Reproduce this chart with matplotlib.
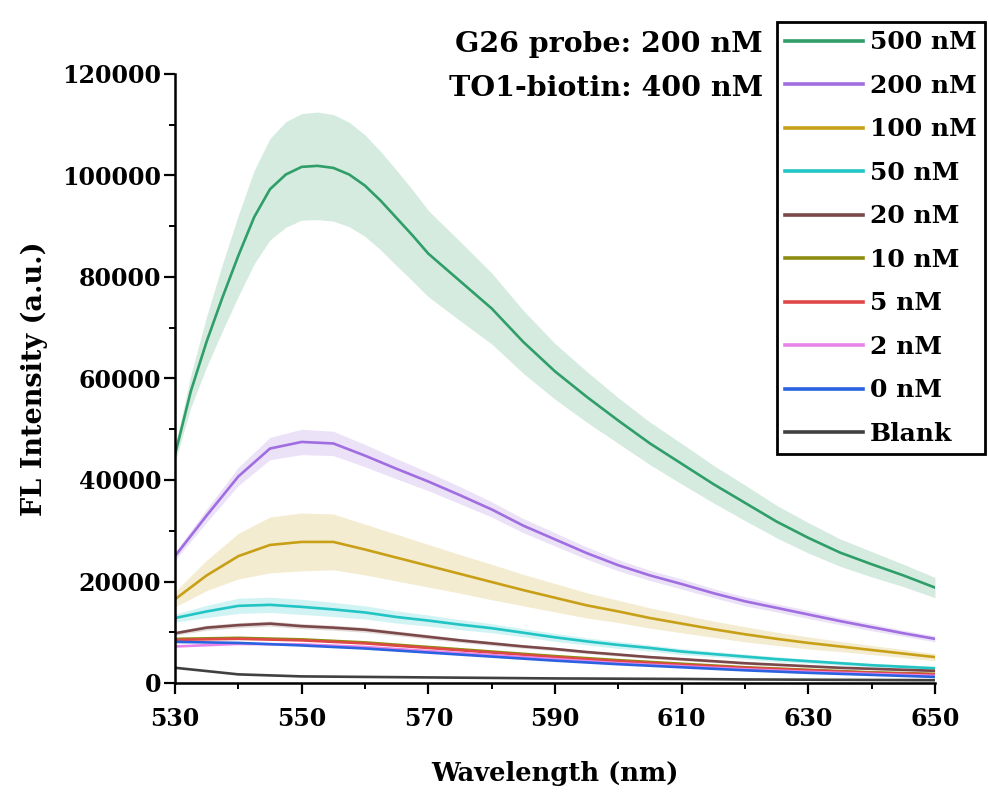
import numpy as np
import matplotlib
matplotlib.use("Agg")
import matplotlib.pyplot as plt
from matplotlib.ticker import FixedLocator

plt.rcParams['font.family'] = ['DejaVu Serif']
plt.rcParams['font.weight'] = 'bold'

# ---------------- data ----------------
wl_g = [530, 532.5, 535, 537.5, 540, 542.5, 545, 547.5, 550, 552.5, 555, 557.5,
        560, 562.5, 565, 567.5, 570, 575, 580, 585, 590, 595, 600, 605, 610,
        615, 620, 625, 630, 635, 640, 645, 650]
c500 = [45000, 57500, 67300, 76000, 84200, 91800, 97300, 100200, 101700, 101900,
        101500, 100200, 98000, 95000, 91600, 88200, 84600, 79200, 73800, 67200,
        61400, 56400, 51700, 47200, 43200, 39200, 35500, 31800, 28600, 25700,
        23400, 21200, 18800]
s500 = [1500, 3200, 5000, 6600, 8000, 9200, 10000, 10400, 10500, 10600,
        10500, 10300, 10000, 9700, 9400, 9000, 8500, 7800, 7000, 6200,
        5500, 5000, 4500, 4200, 4000, 3700, 3500, 3200, 3000, 2700,
        2500, 2200, 2000]

wl5 = [530, 535, 540, 545, 550, 555, 560, 565, 570, 575, 580, 585, 590,
       595, 600, 605, 610, 615, 620, 625, 630, 635, 640, 645, 650]
wl10 = [530, 540, 550, 560, 570, 580, 590, 600, 610, 620, 630, 640, 650]

c200 = [25000, 33000, 40700, 46200, 47500, 47200, 44800, 42200, 39700, 37000,
        34200, 31000, 28300, 25600, 23200, 21200, 19500, 17700, 16100, 14800,
        13500, 12200, 11000, 9800, 8700]
s200 = [800, 1300, 1800, 2200, 2500, 2400, 2200, 2000, 1800, 1700,
        1500, 1400, 1300, 1200, 1100, 1000, 1000, 900, 900, 800,
        800, 700, 700, 600, 600]

c100 = [16500, 21200, 25000, 27200, 27800, 27800, 26300, 24700, 23100, 21500,
        19900, 18300, 16800, 15300, 14100, 12800, 11700, 10600, 9600, 8700,
        7900, 7200, 6500, 5800, 5100]
s100 = [1500, 3000, 4500, 5500, 5700, 5500, 5000, 4600, 4200, 3800,
        3500, 3100, 2800, 2500, 2200, 2000, 1800, 1600, 1500, 1300,
        1200, 1000, 900, 800, 700]

c50 = [12800, 14100, 15200, 15400, 15000, 14500, 13900, 13000, 12300, 11500,
       10800, 9900, 9000, 8200, 7500, 6900, 6200, 5700, 5200, 4700,
       4300, 3900, 3500, 3200, 2900]
s50 = [800, 1200, 1500, 1500, 1500, 1400, 1300, 1200, 1100, 1000,
       900, 800, 800, 700, 700, 600, 600, 500, 500, 500,
       400, 400, 400, 400, 400]

c20 = [9800, 10900, 11400, 11700, 11200, 10900, 10500, 9800, 9100, 8400,
       7800, 7200, 6700, 6100, 5600, 5100, 4700, 4300, 3900, 3600,
       3300, 3000, 2800, 2600, 2400]
s20 = [400, 500, 500, 500, 500, 500, 500, 450, 450, 400,
       400, 350, 350, 300, 300, 300, 300, 250, 250, 250,
       200, 200, 200, 200, 200]

c10 = [8700, 8900, 8600, 8000, 7100, 6200, 5300, 4500, 3800, 3100, 2600, 2100, 1800]
c5 = [8500, 8700, 8400, 7800, 6900, 6000, 5100, 4300, 3600, 3000, 2500, 2000, 1700]
c2 = [7200, 7700, 7600, 7100, 6300, 5500, 4700, 3900, 3300, 2700, 2200, 1800, 1400]
c0 = [8100, 7900, 7400, 6800, 6000, 5200, 4400, 3700, 3100, 2500, 2000, 1600, 1200]
cblank = [3000, 1700, 1300, 1200, 1100, 1000, 900, 850, 800, 700, 650, 600, 550]

xticks_major = [530, 550, 570, 590, 610, 630, 650]
xticks_minor = [540, 560, 580, 600, 620, 640]
yticks_major = [0, 20000, 40000, 60000, 80000, 100000, 120000]
yticks_minor = [10000, 30000, 50000, 70000, 90000, 110000]

labels = ['500 nM', '200 nM', '100 nM', '50 nM', '20 nM', '10 nM',
          '5 nM', '2 nM', '0 nM', 'Blank']
colors = ['#2f9e68', '#a06ee0', '#c8a018', '#22c4c4', '#7a4848', '#8c8c10',
          '#e04848', '#e884e8', '#2a62e0', '#404040']

# ---------------- figure ----------------
fig = plt.figure(figsize=(9.89, 7.96), dpi=100)
ax = fig.add_axes([175 / 989, 1 - 683 / 796, (935 - 175) / 989, (683 - 74) / 796])

banded = [(wl_g, c500, s500), (wl5, c200, s200), (wl5, c100, s100),
          (wl5, c50, s50), (wl5, c20, s20)]
handles = []
for i, (x, c, s) in enumerate(banded):
    x = np.array(x); c = np.array(c); s = np.array(s)
    ax.fill_between(x, c - s, c + s, color=colors[i], alpha=0.2, lw=0)
for i, (x, c, s) in enumerate(banded):
    h, = ax.plot(x, c, color=colors[i], lw=1.9, label=labels[i])
    handles.append(h)
for j, c in enumerate([c10, c5, c2, c0, cblank]):
    i = j + 5
    h, = ax.plot(wl10, c, color=colors[i], lw=1.9, label=labels[i])
    handles.append(h)

ax.set_xlim(530, 650)
ax.set_ylim(0, 120000)
ax.xaxis.set_major_locator(FixedLocator(xticks_major))
ax.xaxis.set_minor_locator(FixedLocator(xticks_minor))
ax.yaxis.set_major_locator(FixedLocator(yticks_major))
ax.yaxis.set_minor_locator(FixedLocator(yticks_minor))
for sp in ['top', 'right']:
    ax.spines[sp].set_visible(False)
for sp in ['left', 'bottom']:
    ax.spines[sp].set_linewidth(1.8)
ax.tick_params(which='major', direction='out', length=8, width=1.6, labelsize=17)
ax.tick_params(axis='x', which='major', pad=9)
ax.tick_params(axis='y', which='major', pad=2)
ax.tick_params(which='minor', direction='out', length=4.5, width=1.4)
for lab in ax.get_xticklabels() + ax.get_yticklabels():
    lab.set_fontweight('bold')

ax.set_xlabel('Wavelength (nm)', fontsize=18.5, fontweight='bold', labelpad=22)
ax.set_ylabel('FL Intensity (a.u.)', fontsize=19.5, fontweight='bold', labelpad=10)

fig.text(763 / 989, 1 - 44 / 796, 'G26 probe: 200 nM', ha='right', va='center',
         fontsize=20.5, fontweight='bold')
fig.text(763 / 989, 1 - 88 / 796, 'TO1-biotin: 400 nM', ha='right', va='center',
         fontsize=20.5, fontweight='bold')

leg = fig.legend(handles=handles, loc='upper right',
                 bbox_to_anchor=(985 / 989, 1 - 22 / 796),
                 bbox_transform=fig.transFigure, borderaxespad=0,
                 prop={'size': 18, 'weight': 'bold'}, handlelength=3.1,
                 handletextpad=0.3, labelspacing=0.78, borderpad=0.33,
                 fancybox=False, framealpha=1, edgecolor='black')
leg.get_frame().set_linewidth(2.0)
for l in leg.get_lines():
    l.set_linewidth(2.6)

fig.savefig('out.png', dpi=100)
